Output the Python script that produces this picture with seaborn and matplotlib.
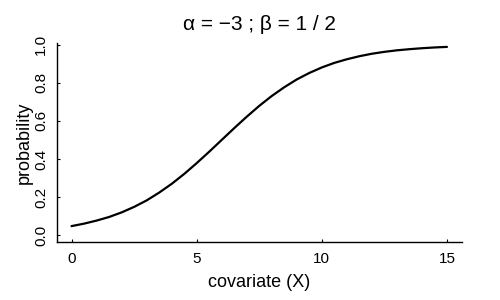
import matplotlib
matplotlib.use("Agg")
import matplotlib.pyplot as plt
import seaborn as sns
import pandas as pd

# values
covariate = [0, 0.5, 1, 1.5, 2, 2.5, 3, 3.5, 4, 4.5, 5, 5.5, 6, 6.5, 7, 7.5,
             8, 8.5, 9, 9.5, 10, 10.5, 11, 11.5, 12, 12.5, 13, 13.5, 14, 14.5, 15]
probability = [0.047, 0.060, 0.076, 0.095, 0.119, 0.148, 0.182, 0.223, 0.269,
               0.321, 0.378, 0.438, 0.500, 0.562, 0.622, 0.679, 0.731, 0.777,
               0.818, 0.852, 0.881, 0.905, 0.924, 0.940, 0.953, 0.963, 0.971,
               0.977, 0.982, 0.986, 0.989]
x_ticks = [0, 5, 10, 15]
y_ticks = [0.0, 0.2, 0.4, 0.6, 0.8, 1.0]
y_tick_labels = ["0.0", "0.2", "0.4", "0.6", "0.8", "1.0"]
title = "α = −3 ; β = 1 / 2"

sns.set_style("white")
plt.rcParams['font.family'] = ['Liberation Sans', 'DejaVu Sans']
plt.rcParams['text.color'] = 'black'
plt.rcParams['axes.labelcolor'] = 'black'

df = pd.DataFrame({"x": covariate, "p": probability})

fig = plt.figure(figsize=(5, 3), dpi=100)
ax = fig.add_axes([0.113, 0.193, 0.811, 0.664])
sns.lineplot(data=df, x="x", y="p", color="black", linewidth=1.6, ax=ax)

ax.set_xlim(-0.6, 15.6)
ax.set_ylim(-0.037, 1.01)
ax.set_xticks(x_ticks)
ax.set_xticklabels([str(t) for t in x_ticks])
ax.set_yticks(y_ticks)
ax.set_yticklabels(y_tick_labels)

for s in ["top", "right"]:
    ax.spines[s].set_visible(False)
for s in ["left", "bottom"]:
    ax.spines[s].set_color("black")
    ax.spines[s].set_linewidth(1.0)

ax.tick_params(axis="both", direction="in", length=2.5, width=0.8,
               colors="black", labelcolor="black", labelsize=11, pad=7,
               left=True, bottom=True)
ax.tick_params(axis="y", pad=6)
for lab in ax.get_yticklabels():
    lab.set_rotation(90)
    lab.set_va("center")
    lab.set_ha("right")

ax.set_xlabel("covariate (X)", fontsize=13, labelpad=6)
ax.set_ylabel("probability", fontsize=13, labelpad=1)
ax.set_title(title, fontsize=15, pad=9)

fig.savefig("out.png", dpi=100)
